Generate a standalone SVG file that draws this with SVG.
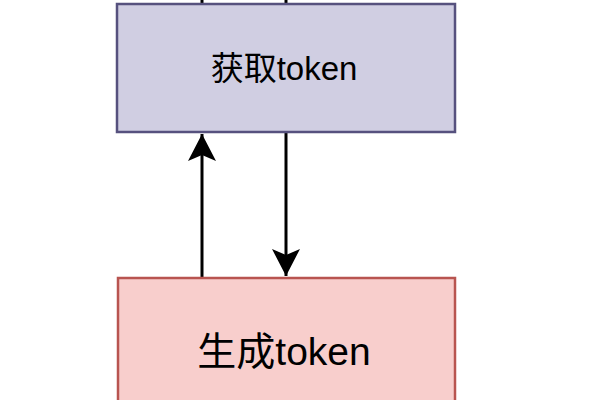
<svg xmlns="http://www.w3.org/2000/svg" width="600" height="400" viewBox="0 0 600 400">
<style>
.lbl{font-family:"Liberation Sans","Noto Sans CJK SC",sans-serif;fill:#000;text-anchor:middle}
.edge{stroke:#000;stroke-width:3;fill:none}
</style>
<defs>
<marker id="arr" markerUnits="userSpaceOnUse" viewBox="0 0 28 28" refX="27" refY="14" markerWidth="28" markerHeight="28" orient="auto">
<path d="M27,14 L0,0 L6,14 L0,28 Z" fill="#000"/>
</marker>
</defs>
<rect width="600" height="400" fill="#fff"/>
<g id="connectors">
<line class="edge" x1="202" y1="-5" x2="202" y2="3"/>
<line class="edge" x1="286" y1="-5" x2="286" y2="3"/>
<line class="edge" x1="202" y1="278" x2="202" y2="134" marker-end="url(#arr)"/>
<line class="edge" x1="286" y1="132" x2="286" y2="276" marker-end="url(#arr)"/>
</g>
<g id="get-token">
<rect x="117" y="4" width="338" height="128" fill="#d0cee2" stroke="#56517e" stroke-width="2.5"/>
<text class="lbl" x="284" y="80" font-size="33">获取token</text>
</g>
<g id="gen-token">
<rect x="118" y="278" width="337" height="140" fill="#f8cecc" stroke="#b85450" stroke-width="2.5"/>
<text class="lbl" x="284" y="365" font-size="39">生成token</text>
</g>
</svg>
